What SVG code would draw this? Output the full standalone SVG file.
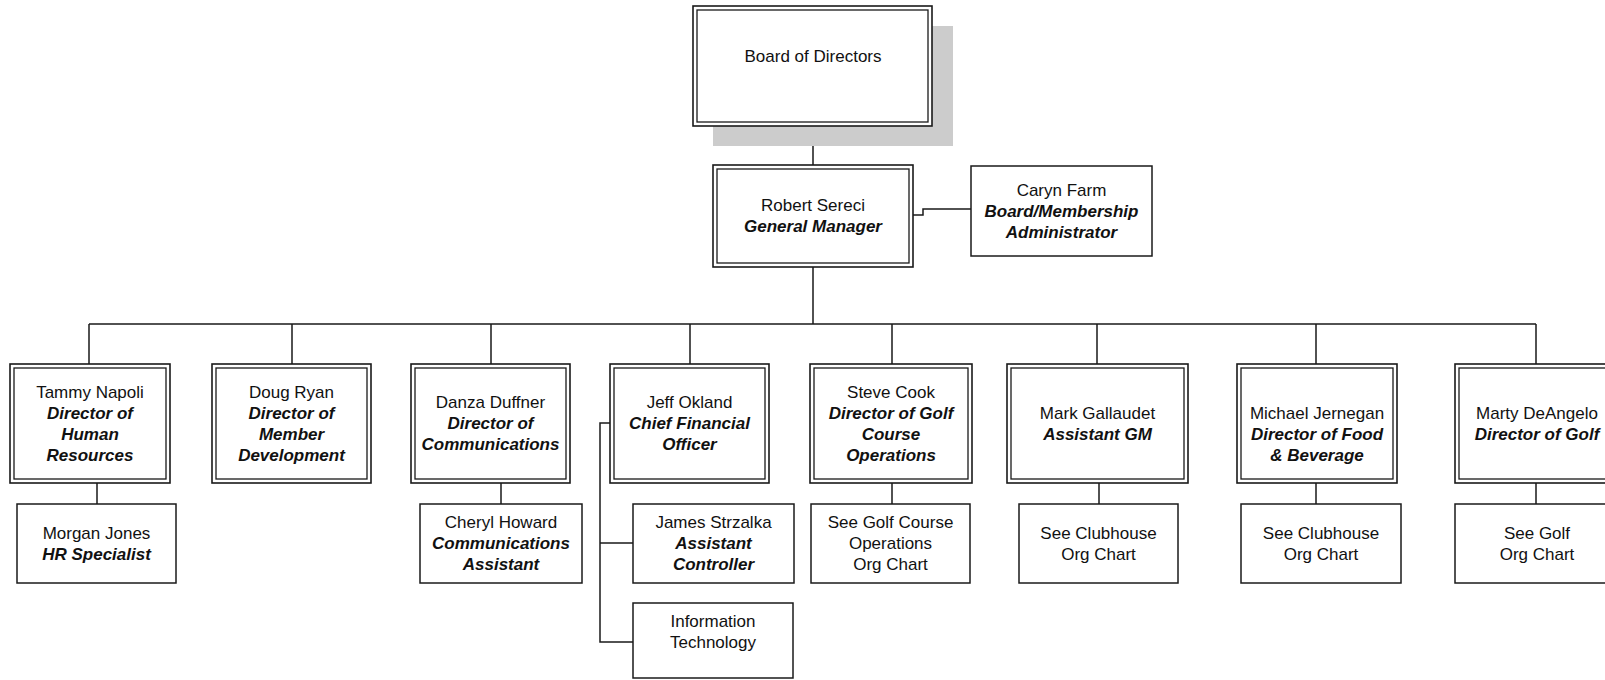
<svg xmlns="http://www.w3.org/2000/svg" width="1605" height="680" viewBox="0 0 1605 680">
<style>
.o{fill:#fff;stroke:#1a1a1a;stroke-width:1.6}
.i{fill:none;stroke:#1a1a1a;stroke-width:1.3}
.s{fill:#fff;stroke:#1a1a1a;stroke-width:1.5}
.c{fill:none;stroke:#1a1a1a;stroke-width:1.5}
text{font-family:"Liberation Sans",Arial,sans-serif;font-size:17px;fill:#111;text-anchor:middle}
.b{font-weight:bold;font-style:italic}
</style>
<rect width="1605" height="680" fill="#fff"/>
<g id="connectors">
<path class="c" d="M813,126V165M913,215H923V209H971M813,267V324M89,324H1536M89,324V364M292,324V364M491,324V364M690,324V364M892,324V364M1097,324V364M1316,324V364M1536,324V364M97,483V504M501,483V504M892,483V504M1099,483V504M1316,483V504M1536,483V504M610,423H600V642H633M600,543H633"/>
</g>
<g id="board">
<rect x="713" y="26" width="240" height="120" fill="#cccccc"/>
<rect class="o" x="693" y="6" width="239" height="120"/><rect class="i" x="697" y="10" width="231" height="112"/>
<text x="813" y="62">Board of Directors</text>
</g>
<g id="gm">
<rect class="o" x="713" y="165" width="200" height="102"/><rect class="i" x="717" y="169" width="192" height="94"/>
<text x="813" y="211">Robert Sereci</text><text class="b" x="813" y="232">General Manager</text>
</g>
<g id="caryn">
<rect class="s" x="971" y="166" width="181" height="90"/>
<text x="1061.5" y="196">Caryn Farm</text><text class="b" x="1061.5" y="217">Board/Membership</text><text class="b" x="1061.5" y="238">Administrator</text>
</g>
<g id="tammy">
<rect class="o" x="10" y="364" width="160" height="119"/><rect class="i" x="14" y="368" width="152" height="111"/>
<text x="90" y="398">Tammy Napoli</text><text class="b" x="90" y="419">Director of</text><text class="b" x="90" y="440">Human</text><text class="b" x="90" y="461">Resources</text>
</g>
<g id="doug">
<rect class="o" x="212" y="364" width="159" height="119"/><rect class="i" x="216" y="368" width="151" height="111"/>
<text x="291.5" y="398">Doug Ryan</text><text class="b" x="291.5" y="419">Director of</text><text class="b" x="291.5" y="440">Member</text><text class="b" x="291.5" y="461">Development</text>
</g>
<g id="danza">
<rect class="o" x="411" y="364" width="159" height="119"/><rect class="i" x="415" y="368" width="151" height="111"/>
<text x="490.5" y="408">Danza Duffner</text><text class="b" x="490.5" y="429">Director of</text><text class="b" x="490.5" y="450">Communications</text>
</g>
<g id="jeff">
<rect class="o" x="610" y="364" width="159" height="119"/><rect class="i" x="614" y="368" width="151" height="111"/>
<text x="689.5" y="408">Jeff Okland</text><text class="b" x="689.5" y="429">Chief Financial</text><text class="b" x="689.5" y="450">Officer</text>
</g>
<g id="steve">
<rect class="o" x="810" y="364" width="162" height="119"/><rect class="i" x="814" y="368" width="154" height="111"/>
<text x="891" y="398">Steve Cook</text><text class="b" x="891" y="419">Director of Golf</text><text class="b" x="891" y="440">Course</text><text class="b" x="891" y="461">Operations</text>
</g>
<g id="mark">
<rect class="o" x="1007" y="364" width="181" height="119"/><rect class="i" x="1011" y="368" width="173" height="111"/>
<text x="1097.5" y="419">Mark Gallaudet</text><text class="b" x="1097.5" y="440">Assistant GM</text>
</g>
<g id="michael">
<rect class="o" x="1237" y="364" width="160" height="119"/><rect class="i" x="1241" y="368" width="152" height="111"/>
<text x="1317" y="419">Michael Jernegan</text><text class="b" x="1317" y="440">Director of Food</text><text class="b" x="1317" y="461">&amp; Beverage</text>
</g>
<g id="marty">
<rect class="o" x="1455" y="364" width="164" height="119"/><rect class="i" x="1459" y="368" width="156" height="111"/>
<text x="1537" y="419">Marty DeAngelo</text><text class="b" x="1537" y="440">Director of Golf</text>
</g>
<g id="morgan">
<rect class="s" x="17" y="504" width="159" height="79"/>
<text x="96.5" y="539">Morgan Jones</text><text class="b" x="96.5" y="560">HR Specialist</text>
</g>
<g id="cheryl">
<rect class="s" x="420" y="504" width="162" height="79"/>
<text x="501" y="528">Cheryl Howard</text><text class="b" x="501" y="549">Communications</text><text class="b" x="501" y="570">Assistant</text>
</g>
<g id="james">
<rect class="s" x="633" y="504" width="161" height="79"/>
<text x="713.5" y="528">James Strzalka</text><text class="b" x="713.5" y="549">Assistant</text><text class="b" x="713.5" y="570">Controller</text>
</g>
<g id="it">
<rect class="s" x="633" y="603" width="160" height="75"/>
<text x="713" y="627">Information</text><text x="713" y="648">Technology</text>
</g>
<g id="golfcourse">
<rect class="s" x="811" y="504" width="159" height="79"/>
<text x="890.5" y="528">See Golf Course</text><text x="890.5" y="549">Operations</text><text x="890.5" y="570">Org Chart</text>
</g>
<g id="clubhouse1">
<rect class="s" x="1019" y="504" width="159" height="79"/>
<text x="1098.5" y="539">See Clubhouse</text><text x="1098.5" y="560">Org Chart</text>
</g>
<g id="clubhouse2">
<rect class="s" x="1241" y="504" width="160" height="79"/>
<text x="1321" y="539">See Clubhouse</text><text x="1321" y="560">Org Chart</text>
</g>
<g id="golf">
<rect class="s" x="1455" y="504" width="164" height="79"/>
<text x="1537" y="539">See Golf</text><text x="1537" y="560">Org Chart</text>
</g>
</svg>
